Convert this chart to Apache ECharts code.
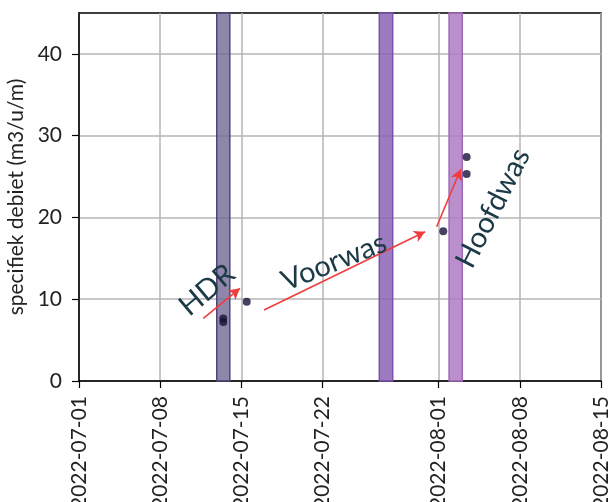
<!DOCTYPE html>
<html>
<head>
<meta charset="utf-8">
<script src="https://cdn.jsdelivr.net/npm/echarts@6/dist/echarts.min.js"></script>
<style>
  html, body { margin: 0; padding: 0; background: #fff; }
  #chart { width: 608px; height: 502px; }
</style>
</head>
<body>
<div id="chart"></div>
<script>
// Measurements of specific flow (m3/u/m)
const measureTimes = ['2022-07-13T10:30', '2022-07-13T10:30', '2022-07-15T11:00', '2022-08-01T09:40', '2022-08-03T10:00', '2022-08-03T10:00'];
const measureValues = [7.65, 7.2, 9.7, 18.3, 25.3, 27.4];

// Cleaning periods (start, end)
const bandStarts = ['2022-07-12T21:00', '2022-07-26T21:20', '2022-08-01T21:40'];
const bandEnds   = ['2022-07-14T00:00', '2022-07-28T01:00', '2022-08-03T01:00'];
const bandFills  = ['rgba(118,108,150,0.82)', 'rgba(140,100,180,0.85)', 'rgba(178,128,196,0.88)'];
const bandEdges  = ['#4f4578', '#7a4fb0', '#a06ab8'];

// Arrows between the stages (from -> to, in date / value)
const arrowFromTimes = ['2022-07-11T17:15', '2022-07-16T22:50', '2022-07-31T20:00'];
const arrowFromValues = [7.67, 8.69, 18.87];
const arrowToTimes = ['2022-07-14T21:00', '2022-07-30T20:00', '2022-08-02T21:40'];
const arrowToValues = [11.34, 18.26, 25.9];

// Axis ticks
const xTickDates = ['2022-07-01', '2022-07-08', '2022-07-15', '2022-07-22', '2022-08-01', '2022-08-08', '2022-08-15'];
const yTicks = [0, 10, 20, 30, 40];

// Stage labels
const stageNames = ['HDR', 'Voorwas', 'Hoofdwas'];

const ts = s => new Date(s.length === 10 ? s + 'T00:00:00' : s).getTime();
const pad = n => (n < 10 ? '0' : '') + n;
const fmt = v => { const d = new Date(v); return d.getFullYear() + '-' + pad(d.getMonth() + 1) + '-' + pad(d.getDate()); };

const FONT = 'Lato';
const chart = echarts.init(document.getElementById('chart'), null, { renderer: 'canvas' });

const option = {
  animation: false,
  grid: { left: 79, right: 7, top: 13, bottom: 121, outerBoundsMode: 'none', containLabel: false, show: true, borderColor: '#000', borderWidth: 1.5, backgroundColor: 'transparent' },
  xAxis: {
    type: 'value',
    min: ts(xTickDates[0]),
    max: ts(xTickDates[xTickDates.length - 1]),
    axisLine: { lineStyle: { color: '#000', width: 1.5 } },
    axisTick: { show: true, length: 7, lineStyle: { color: '#000', width: 1.2 }, customValues: xTickDates.map(ts) },
    axisLabel: { rotate: 90, fontFamily: FONT, fontSize: 21, color: '#222', margin: 15, customValues: xTickDates.map(ts), formatter: v => fmt(v) },
    splitLine: { show: true, lineStyle: { color: '#b4b4b4', width: 1.5 } }
  },
  yAxis: {
    type: 'value',
    min: 0, max: 45,
    name: 'specifiek debiet (m3/u/m)',
    nameLocation: 'middle',
    nameGap: 48,
    nameTextStyle: { fontFamily: FONT, fontSize: 21, color: '#222' },
    axisLine: { show: true, lineStyle: { color: '#000', width: 1.5 } },
    axisTick: { show: true, length: 7, lineStyle: { color: '#000', width: 1.2 }, customValues: yTicks },
    axisLabel: { fontFamily: FONT, fontSize: 21, color: '#222', margin: 17, customValues: yTicks },
    splitLine: { show: true, lineStyle: { color: '#b4b4b4', width: 1.5 } }
  },
  series: [
    {
      type: 'scatter',
      z: 3,
      symbolSize: 8,
      itemStyle: { color: '#15123a' },
      data: measureTimes.map((t, i) => [ts(t), measureValues[i]]),
      markArea: {
        silent: true,
        data: bandStarts.map((s, i) => [
          { xAxis: ts(s), itemStyle: { color: bandFills[i], borderColor: bandEdges[i], borderWidth: 1.5 } },
          { xAxis: ts(bandEnds[i]) }
        ])
      },
      markLine: {
        silent: true,
        symbol: ['none', 'arrow'],
        symbolSize: [9, 11],
        label: { show: false },
        lineStyle: { color: '#f03c3c', width: 1.6, type: 'solid' },
        data: arrowFromTimes.map((t, i) => [
          { coord: [ts(t), arrowFromValues[i]] },
          { coord: [ts(arrowToTimes[i]), arrowToValues[i]] }
        ])
      }
    }
  ],
  graphic: [
    { type: 'text', x: 207, y: 290, rotation: 40 * Math.PI / 180, style: { text: stageNames[0], fontFamily: FONT, fontSize: 29, fill: '#1b3a45', align: 'center', verticalAlign: 'middle' }, z: 10 },
    { type: 'text', x: 334, y: 262, rotation: 22 * Math.PI / 180, style: { text: stageNames[1], fontFamily: FONT, fontSize: 29, fill: '#1b3a45', align: 'center', verticalAlign: 'middle' }, z: 10 },
    { type: 'text', x: 493, y: 208, rotation: 63 * Math.PI / 180, style: { text: stageNames[2], fontFamily: FONT, fontSize: 29, fill: '#1b3a45', align: 'center', verticalAlign: 'middle' }, z: 10 }
  ]
};
chart.setOption(option);
</script>
</body>
</html>
